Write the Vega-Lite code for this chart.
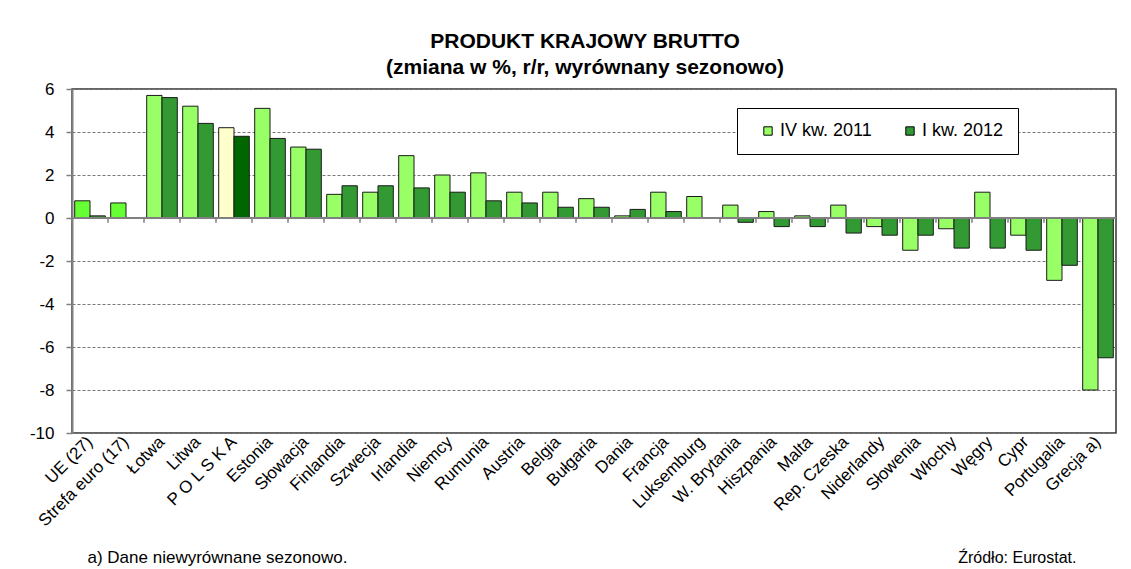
{
  "$schema": "https://vega.github.io/schema/vega-lite/v6.json",
  "autosize": {"type": "none"},
  "width": 1044,
  "height": 344,
  "padding": {"left": 72, "top": 89, "right": 15, "bottom": 136},
  "background": "white",
  "config": {
    "font": "Liberation Sans",
    "view": {"stroke": "#333333", "strokeWidth": 1.5}
  },
  "title": {
    "text": ["PRODUKT KRAJOWY BRUTTO", "(zmiana w %, r/r, wyrównany sezonowo)"],
    "fontSize": 21,
    "fontWeight": "bold",
    "color": "#000000",
    "lineHeight": 26,
    "anchor": "middle",
    "offset": 2,
    "dx": -9
  },
  "data": {
    "values": [
      {"kraj": "UE (27)", "okres": "IV kw. 2011", "v": 0.8},
      {"kraj": "UE (27)", "okres": "I kw. 2012", "v": 0.1},
      {"kraj": "Strefa euro (17)", "okres": "IV kw. 2011", "v": 0.7},
      {"kraj": "Strefa euro (17)", "okres": "I kw. 2012", "v": null},
      {"kraj": "Łotwa", "okres": "IV kw. 2011", "v": 5.7},
      {"kraj": "Łotwa", "okres": "I kw. 2012", "v": 5.6},
      {"kraj": "Litwa", "okres": "IV kw. 2011", "v": 5.2},
      {"kraj": "Litwa", "okres": "I kw. 2012", "v": 4.4},
      {"kraj": "P O L S K A", "okres": "IV kw. 2011", "v": 4.2},
      {"kraj": "P O L S K A", "okres": "I kw. 2012", "v": 3.8},
      {"kraj": "Estonia", "okres": "IV kw. 2011", "v": 5.1},
      {"kraj": "Estonia", "okres": "I kw. 2012", "v": 3.7},
      {"kraj": "Słowacja", "okres": "IV kw. 2011", "v": 3.3},
      {"kraj": "Słowacja", "okres": "I kw. 2012", "v": 3.2},
      {"kraj": "Finlandia", "okres": "IV kw. 2011", "v": 1.1},
      {"kraj": "Finlandia", "okres": "I kw. 2012", "v": 1.5},
      {"kraj": "Szwecja", "okres": "IV kw. 2011", "v": 1.2},
      {"kraj": "Szwecja", "okres": "I kw. 2012", "v": 1.5},
      {"kraj": "Irlandia", "okres": "IV kw. 2011", "v": 2.9},
      {"kraj": "Irlandia", "okres": "I kw. 2012", "v": 1.4},
      {"kraj": "Niemcy", "okres": "IV kw. 2011", "v": 2.0},
      {"kraj": "Niemcy", "okres": "I kw. 2012", "v": 1.2},
      {"kraj": "Rumunia", "okres": "IV kw. 2011", "v": 2.1},
      {"kraj": "Rumunia", "okres": "I kw. 2012", "v": 0.8},
      {"kraj": "Austria", "okres": "IV kw. 2011", "v": 1.2},
      {"kraj": "Austria", "okres": "I kw. 2012", "v": 0.7},
      {"kraj": "Belgia", "okres": "IV kw. 2011", "v": 1.2},
      {"kraj": "Belgia", "okres": "I kw. 2012", "v": 0.5},
      {"kraj": "Bułgaria", "okres": "IV kw. 2011", "v": 0.9},
      {"kraj": "Bułgaria", "okres": "I kw. 2012", "v": 0.5},
      {"kraj": "Dania", "okres": "IV kw. 2011", "v": 0.1},
      {"kraj": "Dania", "okres": "I kw. 2012", "v": 0.4},
      {"kraj": "Francja", "okres": "IV kw. 2011", "v": 1.2},
      {"kraj": "Francja", "okres": "I kw. 2012", "v": 0.3},
      {"kraj": "Luksemburg", "okres": "IV kw. 2011", "v": 1.0},
      {"kraj": "Luksemburg", "okres": "I kw. 2012", "v": null},
      {"kraj": "W. Brytania", "okres": "IV kw. 2011", "v": 0.6},
      {"kraj": "W. Brytania", "okres": "I kw. 2012", "v": -0.2},
      {"kraj": "Hiszpania", "okres": "IV kw. 2011", "v": 0.3},
      {"kraj": "Hiszpania", "okres": "I kw. 2012", "v": -0.4},
      {"kraj": "Malta", "okres": "IV kw. 2011", "v": 0.1},
      {"kraj": "Malta", "okres": "I kw. 2012", "v": -0.4},
      {"kraj": "Rep. Czeska", "okres": "IV kw. 2011", "v": 0.6},
      {"kraj": "Rep. Czeska", "okres": "I kw. 2012", "v": -0.7},
      {"kraj": "Niderlandy", "okres": "IV kw. 2011", "v": -0.4},
      {"kraj": "Niderlandy", "okres": "I kw. 2012", "v": -0.8},
      {"kraj": "Słowenia", "okres": "IV kw. 2011", "v": -1.5},
      {"kraj": "Słowenia", "okres": "I kw. 2012", "v": -0.8},
      {"kraj": "Włochy", "okres": "IV kw. 2011", "v": -0.5},
      {"kraj": "Włochy", "okres": "I kw. 2012", "v": -1.4},
      {"kraj": "Węgry", "okres": "IV kw. 2011", "v": 1.2},
      {"kraj": "Węgry", "okres": "I kw. 2012", "v": -1.4},
      {"kraj": "Cypr", "okres": "IV kw. 2011", "v": -0.8},
      {"kraj": "Cypr", "okres": "I kw. 2012", "v": -1.5},
      {"kraj": "Portugalia", "okres": "IV kw. 2011", "v": -2.9},
      {"kraj": "Portugalia", "okres": "I kw. 2012", "v": -2.2},
      {"kraj": "Grecja a)", "okres": "IV kw. 2011", "v": -8.0},
      {"kraj": "Grecja a)", "okres": "I kw. 2012", "v": -6.5}
    ]
  },
  "layer": [
    {
      "mark": {"type": "bar", "stroke": "#1a1a1a", "strokeWidth": 1},
      "encoding": {
        "x": {
          "field": "kraj",
          "type": "nominal",
          "sort": null,
          "scale": {"paddingInner": 0.15, "paddingOuter": 0.075},
          "axis": {
            "title": "a) Dane niewyrównane sezonowo.",
            "titleFontSize": 17,
            "titleFontWeight": "normal",
            "titleColor": "#000000",
            "titleAlign": "left",
            "titleAnchor": "start",
            "titleBaseline": "middle",
            "titleX": 15,
            "titleY": 124,
            "domain": false,
            "ticks": false,
            "labelAngle": -45,
            "labelAlign": "right",
            "labelBaseline": "middle",
            "labelPadding": 6,
            "labelFontSize": 17,
            "labelColor": "#000000",
            "labelOverlap": false,
            "labelLimit": 200
          }
        },
        "xOffset": {"field": "okres", "type": "nominal", "scale": {"domain": ["IV kw. 2011", "I kw. 2012"], "paddingInner": 0, "paddingOuter": 0}},
        "y": {
          "field": "v",
          "type": "quantitative",
          "scale": {"domain": [-10, 6], "nice": false, "zero": false},
          "axis": {
            "values": [-10, -8, -6, -4, -2, 0, 2, 4, 6],
            "labelExpr": "toString(datum.value)",
            "title": "Źródło: Eurostat.",
            "titleAngle": 0,
            "titleAlign": "right",
            "titleBaseline": "middle",
            "titleX": 1004,
            "titleY": 468,
            "titleFontSize": 16,
            "titleFontWeight": "normal",
            "titleColor": "#000000",
            "domainColor": "#808080",
            "domainWidth": 2,
            "tickColor": "#808080",
            "tickSize": 6,
            "tickWidth": 1.5,
            "labelFontSize": 17,
            "labelColor": "#000000",
            "labelPadding": 12,
            "grid": true,
            "gridColor": "#777777",
            "gridDash": [3, 2],
            "gridWidth": 1
          }
        },
        "color": {
          "condition": [
            {"test": "datum.kraj === 'P O L S K A' && datum.okres === 'IV kw. 2011'", "value": "#FFFFCC"},
            {"test": "datum.kraj === 'P O L S K A' && datum.okres === 'I kw. 2012'", "value": "#006600"},
            {"test": "(datum.kraj === 'UE (27)' || datum.kraj === 'Strefa euro (17)') && datum.okres === 'IV kw. 2011'", "value": "#66FF33"}
          ],
          "field": "okres",
          "type": "nominal",
          "scale": {"domain": ["IV kw. 2011", "I kw. 2012"], "range": ["#99FF66", "#339933"]},
          "legend": {
            "title": null,
            "orient": "none",
            "legendX": 665,
            "legendY": 19,
            "direction": "horizontal",
            "strokeColor": "#000000",
            "fillColor": "#ffffff",
            "padding": 14,
            "columnPadding": 21,
            "symbolType": "square",
            "symbolSize": 70,
            "symbolStrokeColor": "#000000",
            "symbolStrokeWidth": 1,
            "symbolOpacity": 1,
            "labelFontSize": 18,
            "labelColor": "#000000",
            "labelOffset": 3,
            "symbolOffset": 8
          }
        }
      }
    },
    {
      "data": {"values": [{"z": 0}]},
      "mark": {"type": "rule", "color": "#808080", "strokeWidth": 2},
      "encoding": {"y": {"field": "z", "type": "quantitative"}}
    },
    {
      "transform": [{"filter": "datum.okres === 'IV kw. 2011'"}],
      "mark": {"type": "rule", "color": "#808080", "strokeWidth": 1.5},
      "encoding": {
        "x": {"field": "kraj", "type": "nominal", "sort": null, "bandPosition": -0.088},
        "y": {"datum": 0},
        "y2": {"datum": -0.22}
      }
    }
  ]
}
